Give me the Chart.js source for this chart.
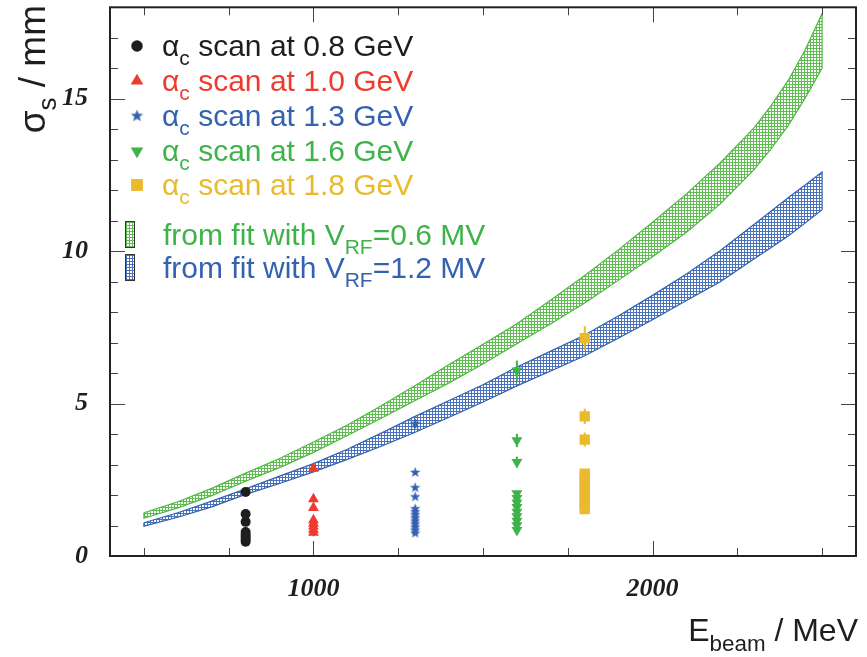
<!DOCTYPE html>
<html>
<head>
<meta charset="utf-8">
<script src="https://cdn.jsdelivr.net/npm/chart.js@4.4.0/dist/chart.umd.min.js"></script>
<style>
  body { margin: 0; background: #fff; }
</style>
</head>
<body>
<canvas id="myChart" width="867" height="657"></canvas>
<script>
// fit bands (E in MeV, sigma_s in mm)
const bandEnergy = [500, 600, 700, 800, 900, 1000, 1100, 1200, 1300, 1400, 1500, 1600, 1700, 1800, 1900, 2000, 2100, 2200, 2300, 2350, 2400, 2450, 2500];
const greenUpper = [1.42, 1.78, 2.22, 2.72, 3.20, 3.74, 4.30, 4.93, 5.59, 6.28, 6.95, 7.62, 8.40, 9.20, 10.05, 10.95, 11.88, 12.90, 14.05, 14.78, 15.60, 16.60, 17.80];
const greenLower = [1.24, 1.58, 1.98, 2.45, 2.90, 3.40, 3.95, 4.52, 5.10, 5.68, 6.30, 6.96, 7.62, 8.30, 9.05, 9.82, 10.62, 11.55, 12.68, 13.36, 14.12, 15.02, 16.00];
const blueUpper = [1.09, 1.42, 1.80, 2.20, 2.62, 3.03, 3.50, 4.03, 4.58, 5.10, 5.62, 6.20, 6.72, 7.25, 7.88, 8.55, 9.25, 10.02, 10.88, 11.32, 11.75, 12.17, 12.60];
const blueLower = [0.98, 1.27, 1.61, 2.02, 2.38, 2.76, 3.17, 3.60, 4.06, 4.55, 5.05, 5.58, 6.07, 6.57, 7.15, 7.75, 8.38, 9.00, 9.75, 10.12, 10.50, 10.92, 11.36];

// alpha_c scans
const scanEnergy = [800, 1000, 1300, 1600, 1800];
const scan08 = [2.10, 1.38, 1.12, 0.79, 0.70, 0.62, 0.55, 0.47];
const scan08Err = [0, 0, 0, 0, 0, 0, 0, 0.1];
const scan10 = [2.87, 1.87, 1.58, 1.18, 1.07, 0.97, 0.87, 0.77];
const scan10Err = [0.1, 0, 0, 0, 0, 0, 0, 0.12];
const scan13 = [4.34, 2.74, 2.24, 1.94, 1.55, 1.45, 1.35, 1.25, 1.15, 1.05, 0.95, 0.85, 0.75];
const scan13Err = [0.15, 0, 0, 0, 0, 0, 0, 0, 0, 0, 0, 0, 0];
const scan16 = [6.08, 3.79, 3.08, 2.05, 1.90, 1.75, 1.60, 1.45, 1.30, 1.15, 1.00, 0.85];
const scan16Err = [0.33, 0.22, 0.18, 0, 0, 0, 0, 0, 0, 0, 0, 0];
const scan18 = [7.15, 4.58, 3.82, 2.70, 2.55, 2.40, 2.25, 2.10, 1.95, 1.80, 1.65, 1.54];
const scan18Err = [0.39, 0.25, 0.23, 0.05, 0, 0, 0, 0, 0, 0, 0, 0.05];

const scanLabels = ['0.8', '1.0', '1.3', '1.6', '1.8'];
const fitLabels = ['0.6', '1.2'];
const xTickLabels = [1000, 2000];
const yTickLabels = [0, 5, 10, 15];

const colBlack = '#1e1e1e';
const colRed = '#ee3b2d';
const colBlue = '#3462b0';
const colGreen = '#3fb34a';
const colYellow = '#e9bb2c';

const canvas = document.getElementById('myChart');
const ctx = canvas.getContext('2d');

function hatch(color) {
  const c = document.createElement('canvas');
  c.width = 3; c.height = 3;
  const g = c.getContext('2d');
  g.fillStyle = '#fff';
  g.fillRect(0, 0, 3, 3);
  g.fillStyle = color;
  g.fillRect(0, 0, 3, 1);
  g.fillRect(0, 0, 1, 3);
  return ctx.createPattern(c, 'repeat');
}

function starImage(color, r) {
  const c = document.createElement('canvas');
  const s = Math.ceil(r * 2 + 2);
  c.width = s; c.height = s;
  const g = c.getContext('2d');
  g.fillStyle = color;
  g.beginPath();
  for (let i = 0; i < 10; i++) {
    const rad = i % 2 === 0 ? r : r * 0.42;
    const a = -Math.PI / 2 + i * Math.PI / 5;
    g.lineTo(s / 2 + rad * Math.cos(a), s / 2 + rad * Math.sin(a));
  }
  g.closePath();
  g.fill();
  return c;
}

function band(upper, lower) {
  const pts = bandEnergy.map((e, i) => ({x: e, y: upper[i]}));
  for (let i = bandEnergy.length - 1; i >= 0; i--) pts.push({x: bandEnergy[i], y: lower[i]});
  pts.push({x: bandEnergy[0], y: upper[0]});
  return pts;
}

function scan(e, vals) {
  return vals.map(v => ({x: e, y: v}));
}

const greenHatch = hatch('#5fbd52');
const blueHatch = hatch('#4a72bc');
const star = starImage(colBlue, 5.5);
const legendStar = starImage(colBlue, 6.5);

const datasets = [
  {data: band(greenUpper, greenLower), showLine: true, fill: 'shape', backgroundColor: greenHatch,
   borderColor: '#52b843', borderWidth: 1.2, pointRadius: 0, order: 3},
  {data: band(blueUpper, blueLower), showLine: true, fill: 'shape', backgroundColor: blueHatch,
   borderColor: colBlue, borderWidth: 1.2, pointRadius: 0, order: 2},
  {data: scan(scanEnergy[0], scan08), errors: scan08Err, pointStyle: 'circle', pointRadius: 5,
   backgroundColor: colBlack, borderWidth: 0, order: 1},
  {data: scan(scanEnergy[1], scan10), errors: scan10Err, pointStyle: 'triangle', pointRadius: 6.3,
   backgroundColor: colRed, borderWidth: 0, order: 1},
  {data: scan(scanEnergy[2], scan13), errors: scan13Err, pointStyle: star, pointRadius: 5.5,
   backgroundColor: colBlue, borderWidth: 0, order: 1},
  {data: scan(scanEnergy[3], scan16), errors: scan16Err, pointStyle: 'triangle', rotation: 180, pointRadius: 6.3,
   backgroundColor: colGreen, borderWidth: 0, order: 1},
  {data: scan(scanEnergy[4], scan18), errors: scan18Err, pointStyle: 'rect', pointRadius: 7.3,
   backgroundColor: colYellow, borderWidth: 0, order: 1}
];

// text with subscripts: parts = [[text, isSub], ...]
function drawParts(g, x, y, parts, size, color) {
  g.fillStyle = color;
  g.textBaseline = 'alphabetic';
  g.textAlign = 'left';
  parts.forEach(p => {
    const s = p[1] ? size * 0.7 : size;
    g.font = s + 'px "Liberation Sans", Arial, sans-serif';
    g.fillText(p[0], x, y + (p[1] ? size * 0.3 : 0));
    x += g.measureText(p[0]).width;
  });
  return x;
}
function partsWidth(g, parts, size) {
  let w = 0;
  parts.forEach(p => {
    g.font = (p[1] ? size * 0.7 : size) + 'px "Liberation Sans", Arial, sans-serif';
    w += g.measureText(p[0]).width;
  });
  return w;
}

const errorBars = {
  id: 'errorBars',
  afterDatasetsDraw(chart) {
    const g = chart.ctx;
    const ys = chart.scales.y;
    chart.data.datasets.forEach((ds, i) => {
      if (!ds.errors) return;
      const meta = chart.getDatasetMeta(i);
      g.save();
      g.strokeStyle = ds.backgroundColor;
      g.lineWidth = 2;
      ds.data.forEach((p, j) => {
        const err = ds.errors[j];
        if (!err) return;
        const x = meta.data[j].x;
        g.beginPath();
        g.moveTo(x, ys.getPixelForValue(p.y + err));
        g.lineTo(x, ys.getPixelForValue(p.y - err));
        g.stroke();
      });
      g.restore();
    });
  }
};

const frame = {
  id: 'frame',
  afterDraw(chart) {
    const g = chart.ctx;
    const a = chart.chartArea;
    const xs = chart.scales.x, ys = chart.scales.y;
    g.save();
    g.strokeStyle = '#444';
    g.lineWidth = 1;
    g.beginPath();
    for (let v = 500; v <= 2500; v += 250) {
      const px = Math.round(xs.getPixelForValue(v)) + 0.5;
      const len = v % 1000 === 0 ? 15 : 8;
      g.moveTo(px, a.bottom); g.lineTo(px, a.bottom - len);
      g.moveTo(px, a.top); g.lineTo(px, a.top + len);
    }
    for (let v = 1; v <= 18; v++) {
      const py = Math.round(ys.getPixelForValue(v)) + 0.5;
      const len = v % 5 === 0 ? 15 : 8;
      g.moveTo(a.left, py); g.lineTo(a.left + len, py);
      g.moveTo(a.right, py); g.lineTo(a.right - len, py);
    }
    g.stroke();
    g.strokeStyle = '#222';
    g.lineWidth = 2;
    g.strokeRect(a.left, a.top, a.right - a.left, a.bottom - a.top);

    // axis titles
    const xt = [['E', false], ['beam', true], [' / MeV', false]];
    drawParts(g, 858 - partsWidth(g, xt, 32), 641, xt, 32, colBlack);
    const yt = [['σ', false], ['s', true], [' / mm', false]];
    g.translate(45, 5);
    g.rotate(-Math.PI / 2);
    drawParts(g, -partsWidth(g, yt, 37), 0, yt, 37, colBlack);
    g.restore();

    // legend
    const fs = 30;
    const rows = [56, 91, 126, 161, 195];
    const marks = datasets.slice(2);
    g.save();
    marks.forEach((ds, i) => {
      g.fillStyle = ds.backgroundColor;
      const style = ds.pointStyle === star ? legendStar : ds.pointStyle;
      Chart.helpers.drawPoint(g, {pointStyle: style, radius: ds.pointRadius * 1.15, rotation: ds.rotation || 0, borderWidth: 0}, 137, rows[i] - 10);
      drawParts(g, 162, rows[i], [['α', false], ['c', true], [' scan at ' + scanLabels[i] + ' GeV', false]], fs, ds.backgroundColor);
    });
    const fitRows = [245, 278];
    const fitCols = [colGreen, colBlue];
    const fitHatch = [greenHatch, blueHatch];
    fitLabels.forEach((lab, i) => {
      const top = fitRows[i] - 24;
      g.fillStyle = fitHatch[i];
      g.fillRect(125, top, 10, 27);
      g.strokeStyle = '#333';
      g.lineWidth = 1;
      g.strokeRect(125.5, top + 0.5, 9, 26);
      drawParts(g, 163, fitRows[i], [['from fit with V', false], ['RF', true], ['=' + lab + ' MV', false]], fs, fitCols[i]);
    });
    g.restore();
  }
};

const tickFont = {family: '"Liberation Serif", "Times New Roman", serif', size: 26, style: 'italic', weight: 'bold'};

const config = {
  type: 'scatter',
  data: {datasets: datasets},
  options: {
    responsive: false,
    animation: false,
    devicePixelRatio: 1,
    layout: {padding: {top: 6, right: 11, left: 0, bottom: 0}},
    plugins: {legend: {display: false}, tooltip: {enabled: false}},
    scales: {
      x: {
        type: 'linear', min: 400, max: 2600,
        grid: {display: false, drawTicks: false},
        border: {display: false},
        afterBuildTicks: s => { s.ticks = xTickLabels.map(v => ({value: v})); },
        afterFit: s => { s.height = 101; s.paddingLeft = 0; s.paddingRight = 0; },
        ticks: {font: tickFont, color: colBlack, padding: 18, maxRotation: 0, callback: v => String(v)}
      },
      y: {
        type: 'linear', min: 0, max: 18,
        grid: {display: false, drawTicks: false},
        border: {display: false},
        afterBuildTicks: s => { s.ticks = yTickLabels.map(v => ({value: v})); },
        afterFit: s => { s.width = 110; s.paddingTop = 0; s.paddingBottom = 0; },
        ticks: {font: tickFont, color: colBlack, padding: 22, callback: v => String(v)}
      }
    }
  },
  plugins: [errorBars, frame]
};

const myChart = new Chart(canvas, config);
</script>
</body>
</html>
